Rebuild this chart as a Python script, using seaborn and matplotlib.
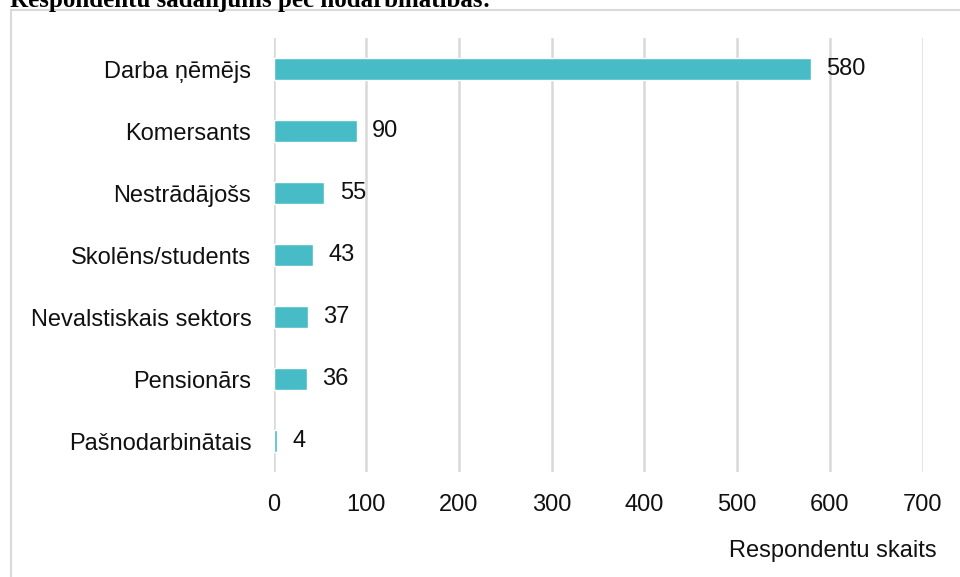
import matplotlib
matplotlib.use("Agg")
import matplotlib.pyplot as plt
from matplotlib.lines import Line2D
import seaborn as sns

categories = [
    "Darba ņēmējs",
    "Komersants",
    "Nestrādājošs",
    "Skolēns/students",
    "Nevalstiskais sektors",
    "Pensionārs",
    "Pašnodarbinātais",
]
counts = [580, 90, 55, 43, 37, 36, 4]
x_ticks = [0, 100, 200, 300, 400, 500, 600, 700]

title = "Respondentu sadalījums pēc nodarbinātības:"
x_label = "Respondentu skaits"

BAR_COLOR = "#48BCC6"
GRID_COLOR = "#D9D9D9"
TEXT_COLOR = "#111111"
FS = 17

sns.set_theme(style="white")
plt.rcParams["font.family"] = ["Liberation Sans", "DejaVu Sans"]

W, H = 960, 577
fig = plt.figure(figsize=(W / 100, H / 100), dpi=100)
ax = fig.add_axes([273.5 / W, 1 - 472 / H, 649 / W, 434 / H])

sns.barplot(x=counts, y=categories, orient="h", color=BAR_COLOR,
            saturation=1, width=0.34, ax=ax, zorder=3)

ax.set_xlim(0, 700)
ax.set_ylim(6.5, -0.5)
ax.set_xticks(x_ticks)
ax.grid(axis="x", color=GRID_COLOR, lw=1.8, zorder=0)
ax.grid(axis="y", visible=False)
ax.set_axisbelow(True)
for s in ax.spines.values():
    s.set_visible(False)
ax.tick_params(axis="y", length=0, pad=16, labelsize=FS, labelcolor=TEXT_COLOR)
ax.tick_params(axis="x", length=0, pad=16, labelsize=FS, labelcolor=TEXT_COLOR)
ax.set_xlabel("")
ax.set_ylabel("")

ax.bar_label(ax.containers[0], padding=11, fontsize=FS, color=TEXT_COLOR)

fig.text(937 / W, 1 - 557 / H, x_label, ha="right", va="baseline",
         fontsize=FS, color=TEXT_COLOR)

# title, clipped at top edge
fig.text(10 / W, 1 - 7 / H, title, ha="left", va="baseline",
         fontsize=18, fontweight="bold", family="Liberation Serif", color="black")

# chart border (left and top only visible)
fig.add_artist(Line2D([10.5 / W, 10.5 / W], [0, 1 - 9.5 / H], color=GRID_COLOR, lw=1.5))
fig.add_artist(Line2D([10.5 / W, 1], [1 - 9.5 / H, 1 - 9.5 / H], color=GRID_COLOR, lw=1.5))

fig.savefig("out.png", dpi=100)
